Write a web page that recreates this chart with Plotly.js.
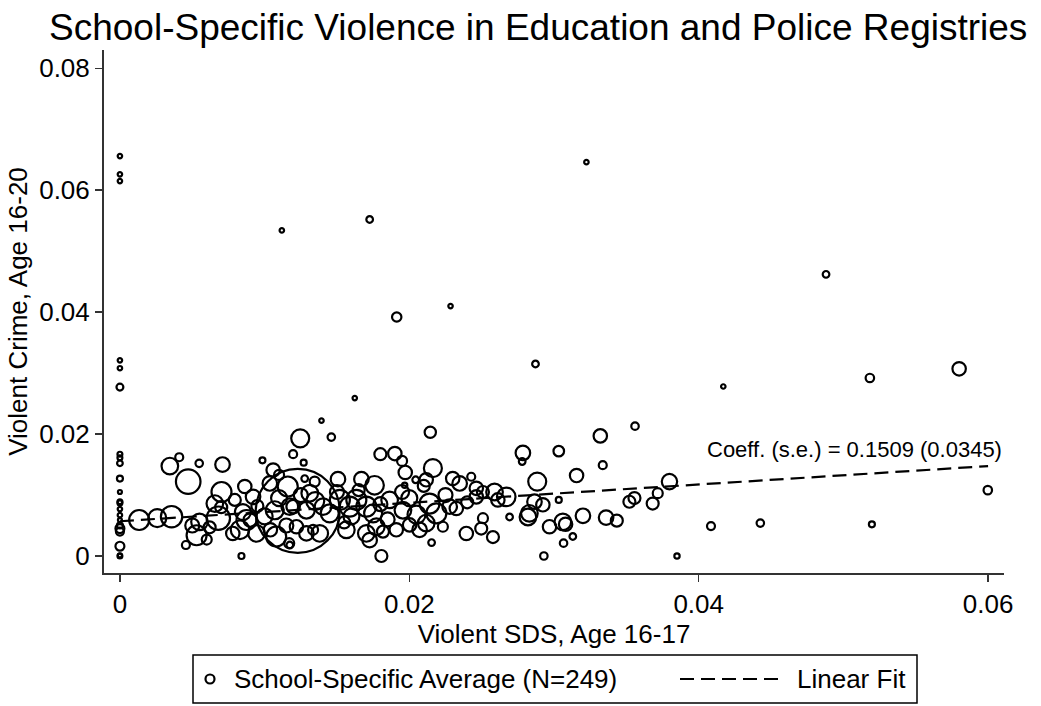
<!DOCTYPE html>
<html>
<head>
<meta charset="utf-8">
<script src="https://cdn.plot.ly/plotly-3.0.1.min.js"></script>
<style>
html,body{margin:0;padding:0;background:#fff;}
#chart{width:1041px;height:706px;}
</style>
</head>
<body>
<div id="chart"></div>
<script>
// School-level averages: violent SDS rate (age 16-17) vs violent crime rate (age 16-20)
var sdsRate = [
  0, 0, 0, 0, 0, 0, 0, 0, 0, 0, 0, 0, 0, 0, 0, 0, 0, 0, 0, 0, 0, 0,
  0.00133, 0.00258, 0.00357, 0.00345, 0.0041, 0.00472, 0.00548, 0.00709, 0.00985, 0.01197,
  0.01246, 0.00456, 0.0084, 0.0055, 0.0053, 0.0050, 0.0062, 0.0060, 0.00702, 0.00656,
  0.0068, 0.00863, 0.00794, 0.0092, 0.0095, 0.01059, 0.0110, 0.01036, 0.0116, 0.01174,
  0.00875, 0.0083, 0.00944, 0.0104, 0.0108, 0.0117, 0.0078, 0.0090, 0.0100, 0.0107,
  0.01229,
  0.01393, 0.01461, 0.0127, 0.02145, 0.0180, 0.0190, 0.0195, 0.01972, 0.02163, 0.02117,
  0.02044, 0.01968, 0.0230, 0.02348, 0.02428, 0.02463, 0.02509, 0.01507, 0.01669, 0.0176,
  0.01346, 0.01277, 0.01864, 0.0152, 0.01634, 0.01703, 0.01588, 0.01404, 0.01289, 0.01312,
  0.01956, 0.0214, 0.02187, 0.02279, 0.02325, 0.02463, 0.01197, 0.0122, 0.01335, 0.01381,
  0.01289, 0.01565, 0.01703, 0.01772, 0.01818, 0.0191, 0.02002, 0.02071, 0.02117, 0.01726,
  0.01174, 0.01807, 0.02154, 0.02394, 0.02497, 0.02509, 0.02232,
  0.0356, 0.0332, 0.02785, 0.0278, 0.03033, 0.03337, 0.02884, 0.03156, 0.03798, 0.03717,
  0.03682, 0.03521, 0.03556, 0.02589, 0.0267, 0.02612, 0.02865, 0.02923, 0.03033, 0.02693,
  0.0282, 0.0283, 0.02578, 0.02969, 0.03061, 0.0308, 0.0313, 0.03066, 0.0293, 0.032,
  0.0336, 0.03434, 0.04085, 0.0385,
  0.0488, 0.0417, 0.05183, 0.058, 0.05998, 0.04426, 0.05197, 0.03224, 0.01726, 0.01119,
  0.02285, 0.01913, 0.02872, 0.01623,
  0.0110, 0.0125, 0.0135, 0.0145, 0.0160, 0.0175, 0.0185, 0.0200, 0.0205, 0.0225,
  0.0240, 0.0150, 0.0165, 0.0195, 0.0085, 0.0070, 0.0115, 0.0155, 0.0210, 0.0180
];
var crimeRate = [
  0.0656, 0.0626, 0.0615, 0.0321, 0.0308, 0.0277, 0.0167, 0.0161, 0.0152, 0.0127, 0.0105,
  0.0089, 0.0087, 0.0077, 0.0067, 0.0059, 0.0045, 0.0040, 0.0016, 0.0000, 0.0001, 0.0050,
  0.0059, 0.0062, 0.00645, 0.01475, 0.0162, 0.0122, 0.0152, 0.0150, 0.0157, 0.0167,
  0.0193, 0.0018, 0.0000, 0.0056, 0.0034, 0.0050, 0.0047, 0.0027, 0.0105, 0.0086,
  0.0062, 0.0114, 0.0092, 0.0097, 0.0082, 0.0141, 0.0133, 0.0119, 0.0114, 0.0081,
  0.0059, 0.0043, 0.0037, 0.0043, 0.0032, 0.0021, 0.0037, 0.0059, 0.0065, 0.0075,
  0.0074,
  0.0222, 0.0195, 0.0153, 0.0203, 0.0167, 0.0168, 0.0156, 0.0137, 0.0144, 0.0125,
  0.0125, 0.0116, 0.0127, 0.0119, 0.0130, 0.0111, 0.0105, 0.0126, 0.0126, 0.0116,
  0.0122, 0.0127, 0.0092, 0.0092, 0.0092, 0.0081, 0.0081, 0.0081, 0.0075, 0.0103,
  0.0075, 0.0086, 0.0070, 0.0081, 0.0078, 0.0097, 0.0081, 0.0048, 0.0043, 0.0037,
  0.0037, 0.0043, 0.0037, 0.0048, 0.0040, 0.0043, 0.0051, 0.0043, 0.0054, 0.0026,
  0.0018, 0.0000, 0.0022, 0.0037, 0.0045, 0.0062, 0.0048,
  0.0213, 0.0197, 0.0169, 0.0155, 0.0172, 0.0149, 0.0122, 0.0132, 0.0122, 0.0103,
  0.0086, 0.0089, 0.0095, 0.0105, 0.0097, 0.0092, 0.0089, 0.0084, 0.0092, 0.0064,
  0.0064, 0.0070, 0.0031, 0.0048, 0.0056, 0.0052, 0.0032, 0.0021, 0.0000, 0.0066,
  0.0063, 0.0058, 0.0049, 0.0000,
  0.0462, 0.0278, 0.0292, 0.0307, 0.0108, 0.0054, 0.0052, 0.0646, 0.0552, 0.0534,
  0.0410, 0.0392, 0.0315, 0.0259,
  0.0095, 0.0100, 0.0090, 0.0070, 0.0065, 0.0070, 0.0060, 0.0095, 0.0068, 0.0100,
  0.0088, 0.0105, 0.0108, 0.0105, 0.0072, 0.0080, 0.0050, 0.0055, 0.0115, 0.0085
];
// school weights (students) - determine circle area
var students = [
  5, 5, 5, 5, 5, 12, 6, 6, 8, 9, 4, 6, 6, 5, 5, 4, 20, 16, 20, 6, 4, 9,
  100, 81, 114, 69, 16, 151, 14, 53, 9, 16,
  81, 16, 9, 69, 100, 49, 36, 25, 100, 69,
  137, 45, 36, 53, 36, 45, 25, 53, 100, 69,
  100, 86, 69, 45, 100, 25, 45, 45, 64, 81,
  1764,
  5, 14, 9, 32, 36, 45, 25, 45, 81, 45,
  11, 7, 45, 53, 16, 45, 36, 53, 53, 86,
  25, 11, 69, 100, 100, 100, 100, 69, 69, 69,
  69, 100, 100, 53, 45, 45, 45, 45, 25, 69,
  53, 69, 69, 69, 36, 45, 45, 53, 69, 53,
  11, 36, 11, 45, 36, 25, 25,
  14, 45, 53, 11, 28, 16, 81, 45, 59, 25,
  36, 36, 36, 69, 86, 45, 53, 45, 9, 11,
  69, 69, 36, 45, 69, 45, 11, 14, 14, 53,
  53, 36, 16, 7,
  11, 5, 18, 45, 18, 14, 9, 5, 11, 5,
  5, 22, 11, 5,
  64, 49, 81, 81, 64, 81, 49, 64, 81, 49,
  36, 49, 36, 49, 64, 36, 49, 36, 36, 49
];
// linear fit end points
var fitX = [0, 0.06];
var fitY = [0.0057, 0.01475];
var fitLabel = "Coeff. (s.e.) = 0.1509 (0.0345)";

var xTickVals = [0, 0.02, 0.04, 0.06];
var xTickText = ["0", "0.02", "0.04", "0.06"];
var yTickVals = [0, 0.02, 0.04, 0.06, 0.08];
var yTickText = ["0", "0.02", "0.04", "0.06", "0.08"];
var legendLabels = ["School-Specific Average (N=249)", "Linear Fit"];

var FONT = "Liberation Sans, Arial, Helvetica, sans-serif";
var DASH = "14px,7px";

var traces = [
  {
    type: "scatter", mode: "markers", x: sdsRate, y: crimeRate,
    name: legendLabels[0], showlegend: false, hoverinfo: "skip",
    marker: {
      symbol: "circle", size: students, sizemode: "area", sizeref: 0.5, sizemin: 1,
      opacity: 1,
      color: "rgba(0,0,0,0)", line: {color: "#000", width: 2.2}
    }
  },
  {
    type: "scatter", mode: "lines", x: fitX, y: fitY, name: legendLabels[1],
    showlegend: false, hoverinfo: "skip",
    line: {color: "#000", width: 2.2, dash: DASH}
  }
];

// legend box drawn in plot-paper coordinates (plot area: x 104..1004 px, y 50..573 px)
function px2x(p) { return (p - 104) / 900; }
function py2y(p) { return (573 - p) / 523; }

var legY = py2y(679);
var shapes = [
  {type: "rect", xref: "paper", yref: "paper", x0: px2x(193), x1: px2x(917), y0: py2y(703), y1: py2y(655),
   line: {color: "#000", width: 1.5}, fillcolor: "#fff", layer: "above"},
  {type: "circle", xref: "paper", yref: "paper", xsizemode: "pixel", ysizemode: "pixel",
   xanchor: px2x(210), yanchor: legY, x0: -4.5, x1: 4.5, y0: -4.5, y1: 4.5,
   line: {color: "#000", width: 2.2}, layer: "above"},
  {type: "line", xref: "paper", yref: "paper", x0: px2x(680), x1: px2x(779), y0: legY, y1: legY,
   line: {color: "#000", width: 2.2, dash: DASH}, layer: "above"}
];

var layout = {
  width: 1041, height: 706,
  paper_bgcolor: "#fff", plot_bgcolor: "#fff",
  margin: {l: 104, r: 37, t: 50, b: 133, autoexpand: false},
  font: {family: FONT, color: "#000"},
  showlegend: false,
  title: {
    text: "School-Specific Violence in Education and Police Registries",
    font: {family: FONT, size: 37, color: "#000"},
    x: 0.517, xanchor: "center", y: 0.962, yanchor: "middle"
  },
  xaxis: {
    range: [-0.0011, 0.0611], showgrid: false, zeroline: false, automargin: false,
    showline: true, linecolor: "#333", linewidth: 2, mirror: false,
    ticks: "outside", ticklen: 7, tickwidth: 1.5, tickcolor: "#333",
    tickmode: "array", tickvals: xTickVals, ticktext: xTickText,
    tickfont: {family: FONT, size: 26, color: "#000"},
    title: {text: "Violent SDS, Age 16-17", font: {family: FONT, size: 26, color: "#000"}, standoff: 2}
  },
  yaxis: {
    range: [-0.00279, 0.0830], showgrid: false, zeroline: false, automargin: false,
    showline: true, linecolor: "#333", linewidth: 2,
    ticks: "outside", ticklen: 7, tickwidth: 1.5, tickcolor: "#333",
    tickmode: "array", tickvals: yTickVals, ticktext: yTickText,
    tickfont: {family: FONT, size: 26, color: "#000"},
    title: {text: "Violent Crime, Age 16-20", font: {family: FONT, size: 26, color: "#000"}, standoff: 4}
  },
  shapes: shapes,
  annotations: [
    {x: 0.04046, y: 0.01754, xref: "x", yref: "y", text: fitLabel, showarrow: false,
     xanchor: "left", yanchor: "middle", font: {family: FONT, size: 22, color: "#000"}},
    {x: px2x(232), y: legY, xref: "paper", yref: "paper", text: legendLabels[0], showarrow: false,
     xanchor: "left", yanchor: "middle", font: {family: FONT, size: 26, color: "#000"}},
    {x: px2x(795), y: legY, xref: "paper", yref: "paper", text: legendLabels[1], showarrow: false,
     xanchor: "left", yanchor: "middle", font: {family: FONT, size: 26, color: "#000"}}
  ]
};

Plotly.newPlot("chart", traces, layout, {displayModeBar: false, staticPlot: true});
</script>
</body>
</html>
